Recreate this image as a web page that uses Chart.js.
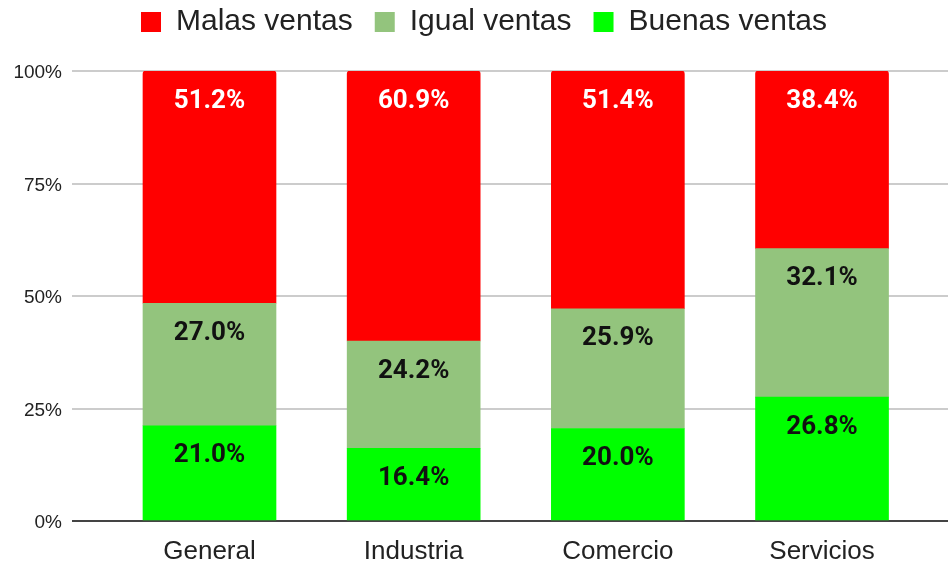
<!DOCTYPE html>
<html>
<head>
<meta charset="utf-8">
<script src="https://cdn.jsdelivr.net/npm/chart.js@4.4.0/dist/chart.umd.min.js"></script>
<style>
  html, body { margin: 0; padding: 0; background: #fff; }
  #wrap { width: 950px; height: 562px; }
</style>
</head>
<body>
<div id="wrap"><canvas id="chart"></canvas></div>
<script>
const categories = ['General', 'Industria', 'Comercio', 'Servicios'];
const buenas = [21.0, 16.4, 20.0, 26.8];
const igual = [27.0, 24.2, 25.9, 32.1];
const malas = [51.2, 60.9, 51.4, 38.4];
const yTicks = [0, 25, 50, 75, 100];

// 100% stacked: every bar is scaled to its own total, labels keep the raw value
const totals = categories.map((c, i) => buenas[i] + igual[i] + malas[i]);
const toPoints = arr => arr.map((v, i) => ({ x: i, y: v / totals[i] * 100 }));

const segmentLabels = {
  id: 'segmentLabels',
  afterDatasetsDraw(chart) {
    const ctx = chart.ctx;
    ctx.save();
    ctx.font = 'bold 26px Roboto';
    ctx.textAlign = 'center';
    ctx.textBaseline = 'middle';
    chart.data.datasets.forEach((ds, di) => {
      ctx.fillStyle = ds.labelColor;
      chart.getDatasetMeta(di).data.forEach((bar, i) => {
        ctx.fillText(ds.raw[i].toFixed(1) + '%', bar.x, bar.y + 30);
      });
    });
    ctx.restore();
  }
};

// fixed legend height, and draw it a bit higher / to the right
const legendTweak = {
  id: 'legendTweak',
  beforeInit(chart) {
    const legend = chart.legend;
    const fit = legend.fit;
    const draw = legend.draw;
    legend.fit = function () { fit.call(this); this.height = 71; };
    legend.draw = function () {
      chart.ctx.save();
      chart.ctx.translate(10, -15);
      draw.call(this);
      chart.ctx.restore();
    };
  }
};

new Chart(document.getElementById('chart'), {
  type: 'bar',
  data: {
    datasets: [
      { label: 'Buenas ventas', data: toPoints(buenas), raw: buenas, backgroundColor: '#00ff00', labelColor: '#111' },
      { label: 'Igual ventas', data: toPoints(igual), raw: igual, backgroundColor: '#93c47d', labelColor: '#111' },
      { label: 'Malas ventas', data: toPoints(malas), raw: malas, backgroundColor: '#ff0000', labelColor: '#fff',
        borderRadius: { topLeft: 3, topRight: 3, bottomLeft: 0, bottomRight: 0 } }
    ]
  },
  options: {
    responsive: true,
    maintainAspectRatio: false,
    animation: false,
    layout: { padding: { left: 0, right: 2, top: 0, bottom: 0 } },
    datasets: { bar: { barThickness: 133, borderWidth: 0, borderSkipped: false } },
    plugins: {
      tooltip: { enabled: false },
      legend: {
        reverse: true,
        labels: {
          boxWidth: 20, boxHeight: 20, padding: 22,
          color: '#222',
          font: { family: 'Liberation Sans', size: 30 }
        }
      }
    },
    scales: {
      x: {
        type: 'linear',
        stacked: true,
        offset: false,
        min: -0.6734,
        max: 3.617,
        afterBuildTicks(scale) { scale.ticks = categories.map((c, i) => ({ value: i })); },
        afterFit(scale) { scale.height = 41; },
        grid: { display: false, drawTicks: false, offset: false },
        border: { display: false },
        ticks: {
          padding: 15,
          color: '#222',
          font: { family: 'Liberation Sans', size: 26 },
          callback: v => categories[v]
        }
      },
      y: {
        stacked: true,
        min: 0,
        max: 100,
        afterBuildTicks(scale) { scale.ticks = yTicks.map(v => ({ value: v })); },
        afterFit(scale) { scale.width = 72; },
        grid: {
          drawTicks: false,
          lineWidth: 2,
          color: c => c.tick && c.tick.value === 0 ? '#444' : '#cccccc'
        },
        border: { display: false },
        ticks: {
          padding: 10,
          labelOffset: 2,
          color: '#222',
          font: { family: 'Liberation Sans', size: 19 },
          callback: v => v + '%'
        }
      }
    }
  },
  plugins: [segmentLabels, legendTweak]
});
</script>
</body>
</html>
